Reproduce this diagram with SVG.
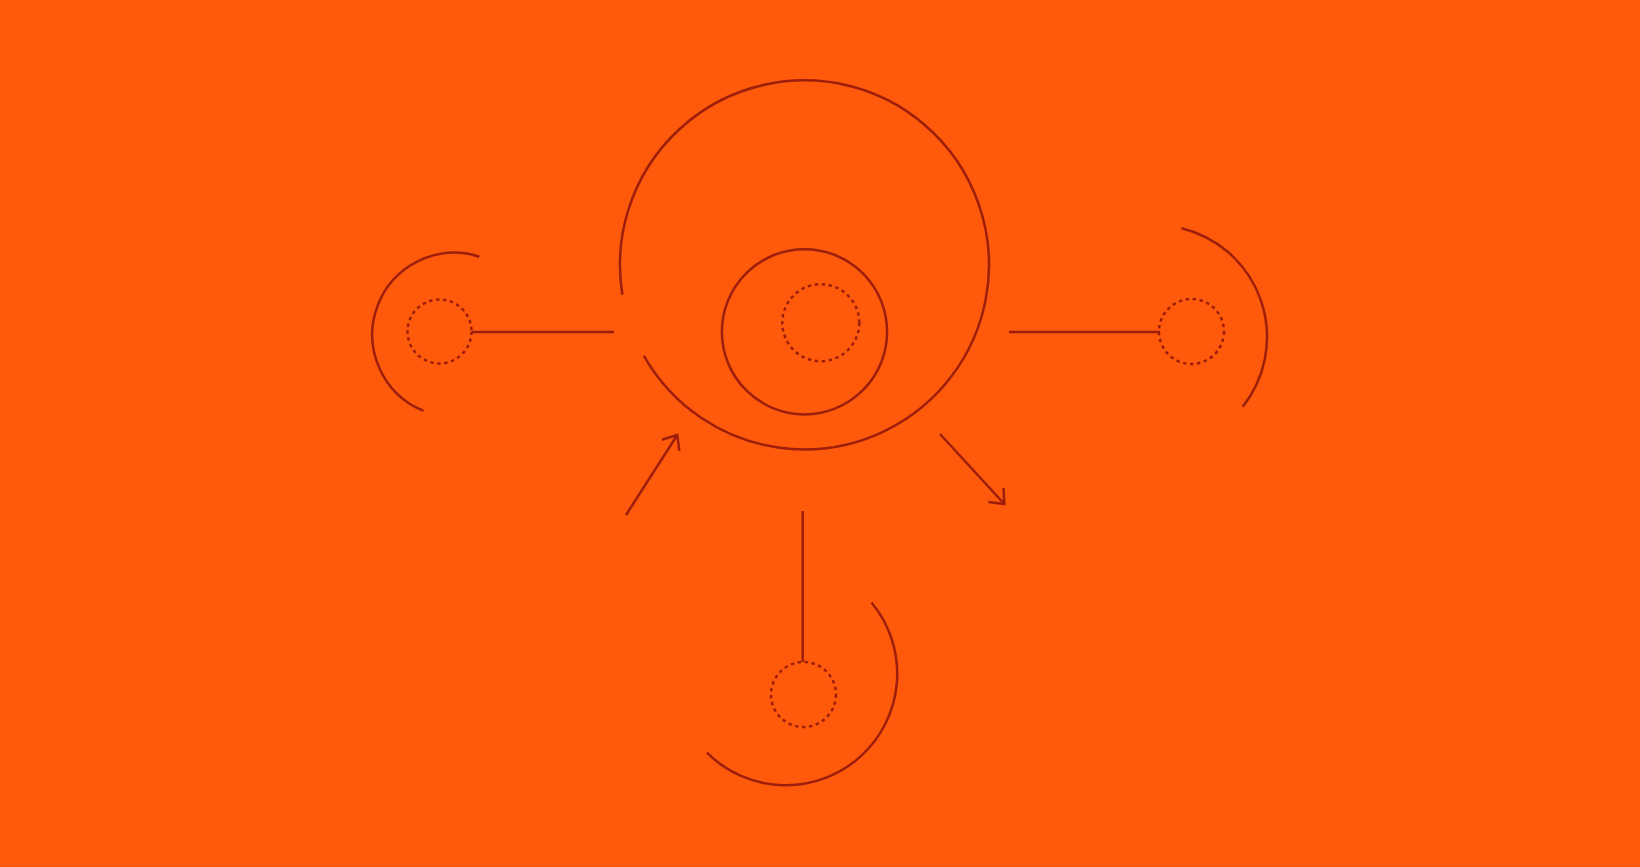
<svg xmlns="http://www.w3.org/2000/svg" width="1640" height="867" viewBox="0 0 1640 867">
  <style>
    .s { fill: none; stroke: #9E1E0C; stroke-width: 2.5; stroke-linecap: butt; }
    .dot { fill: none; stroke: #9E1E0C; stroke-width: 2.5; stroke-dasharray: 3.5 3.5; }
  </style>
  <defs>
    <marker id="arrow" viewBox="-14 -12 16 24" refX="0" refY="0" markerWidth="16" markerHeight="24" markerUnits="userSpaceOnUse" orient="auto" overflow="visible">
      <path d="M-12.3,-10.3 L0,0 L-12.3,10.3" fill="none" stroke="#9E1E0C" stroke-width="2.5" stroke-linejoin="miter"/>
    </marker>
  </defs>
  <rect x="0" y="0" width="1640" height="867" fill="#FF5A0C"/>

  <g id="center-node">
    <path class="s" d="M622.4,294.8 A184.5,184.5 0 1 1 643.8,355.6"/>
    <circle class="s" cx="804.5" cy="331.8" r="82.6"/>
    <circle class="dot" cx="820.8" cy="322.7" r="38.5"/>
  </g>

  <g id="left-node">
    <path class="s" d="M479.4,256.7 A82,82 0 0 0 423.6,410.8"/>
    <circle class="dot" cx="439.5" cy="331.5" r="32"/>
  </g>

  <g id="right-node">
    <path class="s" d="M1181.5,228.2 A112,112 0 0 1 1242.7,406.7"/>
    <circle class="dot" cx="1191.5" cy="331.5" r="32.5"/>
  </g>

  <g id="bottom-node">
    <path class="s" d="M871.5,602.5 A111.5,111.5 0 0 1 706.9,752.6"/>
    <circle class="dot" cx="803.5" cy="694.5" r="32.5"/>
  </g>

  <g id="connectors">
    <line class="s" x1="472" y1="332" x2="614" y2="332"/>
    <line class="s" x1="1009" y1="332" x2="1160" y2="332"/>
    <line class="s" x1="802.7" y1="511" x2="802.7" y2="662"/>
    <line class="s" x1="626" y1="515" x2="677.3" y2="435" marker-end="url(#arrow)"/>
    <line class="s" x1="940" y1="434" x2="1004.3" y2="504" marker-end="url(#arrow)"/>
  </g>
</svg>
